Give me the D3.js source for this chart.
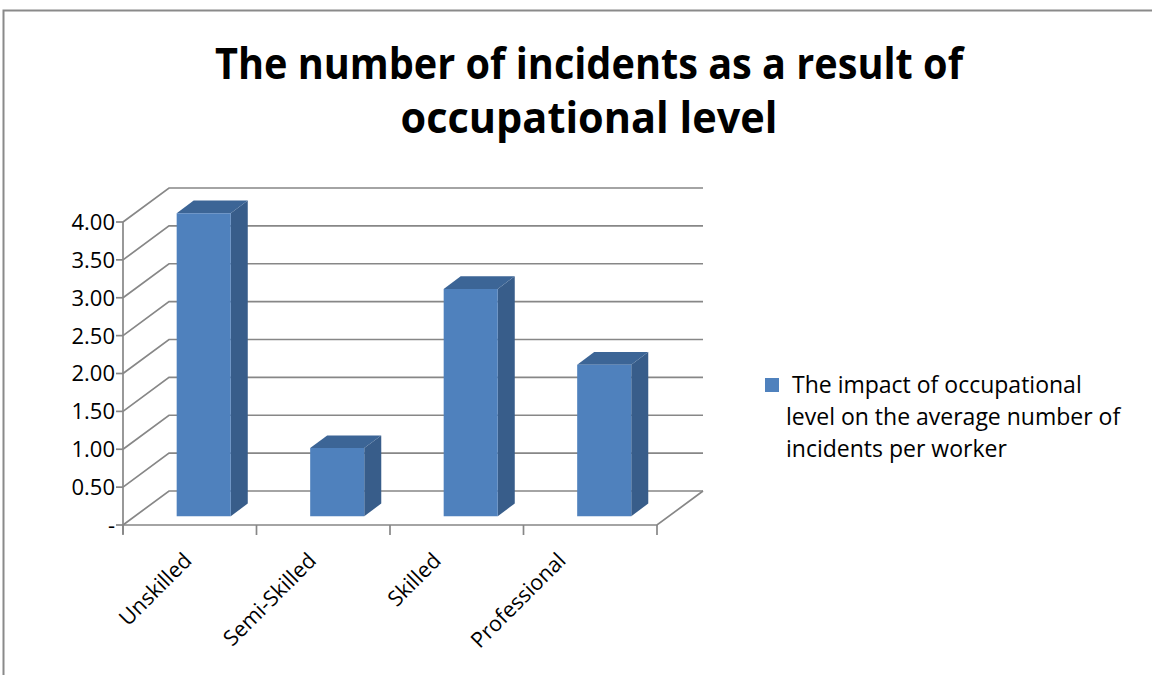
<!DOCTYPE html>
<html>
<head>
<meta charset="utf-8">
<script src="https://cdn.jsdelivr.net/npm/d3@7/dist/d3.min.js"></script>
<style>
  html, body { margin: 0; padding: 0; background: #fff; }
  svg { display: block; }
  text { font-family: "Open Sans", "DejaVu Sans", sans-serif; fill: #000; }
</style>
</head>
<body>
<svg id="chart" width="1152" height="675"></svg>
<script>
// Chart data
const categories = ["Unskilled", "Semi-Skilled", "Skilled", "Professional"];
const values = [4.0, 0.9, 3.0, 2.0];
const yTicks = [0, 0.5, 1.0, 1.5, 2.0, 2.5, 3.0, 3.5, 4.0];
const yTickLabels = ["-", "0.50", "1.00", "1.50", "2.00", "2.50", "3.00", "3.50", "4.00"];
const titleLines = ["The number of incidents as a result of", "occupational level"];
const legendLines = [" The impact of occupational", "level on the average number of", "incidents per worker"];

const svg = d3.select("#chart");
const W = 1152, H = 675;

// Outer chart frame
svg.append("rect")
  .attr("x", 3.5).attr("y", 10.5)
  .attr("width", W + 10).attr("height", H + 10)
  .attr("fill", "#fff").attr("stroke", "#8a8a8a").attr("stroke-width", 2);

// Front plane scales
const x = d3.scaleBand().domain(categories).range([123, 657])
  .paddingInner(0.595).paddingOuter(0.2975);
const xEdge = d3.scaleLinear().domain([0, categories.length]).range([123, 657]);
const y = d3.scaleLinear().domain([0, 4]).range([525, 222]);

// Oblique depth vector of the 3D box
const depth = { dx: 46, dy: -34 };
const P = (px, py, f) => [px + f * depth.dx, py + f * depth.dy];

const gridColor = "#878787";
const g = svg.append("g");

// Walls: left-wall diagonals + back-wall horizontals at each tick level
yTicks.forEach(v => {
  const a = [123, y(v)];
  const b = P(123, y(v), 1);
  const c = P(657, y(v), 1);
  g.append("path")
    .attr("d", d3.line()([a, b, c]))
    .attr("fill", "none").attr("stroke", gridColor).attr("stroke-width", 1.7);
});

// Floor outline
g.append("path")
  .attr("d", d3.line()([[123, y(0)], [657, y(0)], P(657, y(0), 1)]))
  .attr("fill", "none").attr("stroke", gridColor).attr("stroke-width", 1.7);

// Value axis line and ticks
g.append("line")
  .attr("x1", 123).attr("x2", 123).attr("y1", y(4)).attr("y2", y(0) + 9)
  .attr("stroke", gridColor).attr("stroke-width", 1.7);
yTicks.forEach((v, i) => {
  g.append("line")
    .attr("x1", 116).attr("x2", 123).attr("y1", y(v)).attr("y2", y(v))
    .attr("stroke", gridColor).attr("stroke-width", 1.7);
  g.append("text")
    .attr("x", 115).attr("y", y(v))
    .attr("dy", "0.36em")
    .attr("text-anchor", "end")
    .attr("font-size", 22)
    .text(yTickLabels[i]);
});

// Category axis ticks
d3.range(categories.length + 1).forEach(i => {
  g.append("line")
    .attr("x1", xEdge(i)).attr("x2", xEdge(i))
    .attr("y1", y(0)).attr("y2", y(0) + 10)
    .attr("stroke", gridColor).attr("stroke-width", 1.7);
});

// 3D columns
const f0 = 0.26, f1 = 0.63;
const colFront = "#4f81bd", colSide = "#385d8a", colTop = "#3c6596";
const bars = g.append("g");
categories.forEach((c, i) => {
  const x0 = x(c) + 2, x1 = x(c) + x.bandwidth() + 2;
  const yb = y(0), yt = y(values[i]);
  const fl = P(x0, yt, f0), fr = P(x1, yt, f0);
  const flb = P(x0, yb, f0), frb = P(x1, yb, f0);
  const bl = P(x0, yt, f1), br = P(x1, yt, f1), brb = P(x1, yb, f1);
  // side face
  bars.append("path")
    .attr("d", d3.line()([fr, br, brb, frb]) + "Z")
    .attr("fill", colSide);
  // top face
  bars.append("path")
    .attr("d", d3.line()([fl, fr, br, bl]) + "Z")
    .attr("fill", colTop);
  // front face
  bars.append("path")
    .attr("d", d3.line()([fl, fr, frb, flb]) + "Z")
    .attr("fill", colFront);
});

// Rotated category labels
const labelX = d3.scalePoint().domain(categories).range([193, 567]);
categories.forEach(c => {
  g.append("text")
    .attr("transform", `translate(${labelX(c)},${562}) rotate(-45)`)
    .attr("text-anchor", "end")
    .attr("font-size", 21.5)
    .text(c);
});

// Title (condensed bold, two lines)
const titleWidths = [748, 377];
titleLines.forEach((t, i) => {
  svg.append("text")
    .attr("x", 589).attr("y", 79 + i * 54)
    .attr("text-anchor", "middle")
    .attr("font-size", 43)
    .attr("font-weight", "bold")
    .attr("textLength", titleWidths[i])
    .attr("lengthAdjust", "spacingAndGlyphs")
    .text(t);
});

// Legend
svg.append("rect")
  .attr("x", 765).attr("y", 378).attr("width", 14).attr("height", 14)
  .attr("fill", colFront);
legendLines.forEach((t, i) => {
  svg.append("text")
    .attr("x", 786).attr("y", 393 + i * 32)
    .attr("font-size", 23)
    .attr("xml:space", "preserve")
    .style("white-space", "pre")
    .text(t);
});
</script>
</body>
</html>
